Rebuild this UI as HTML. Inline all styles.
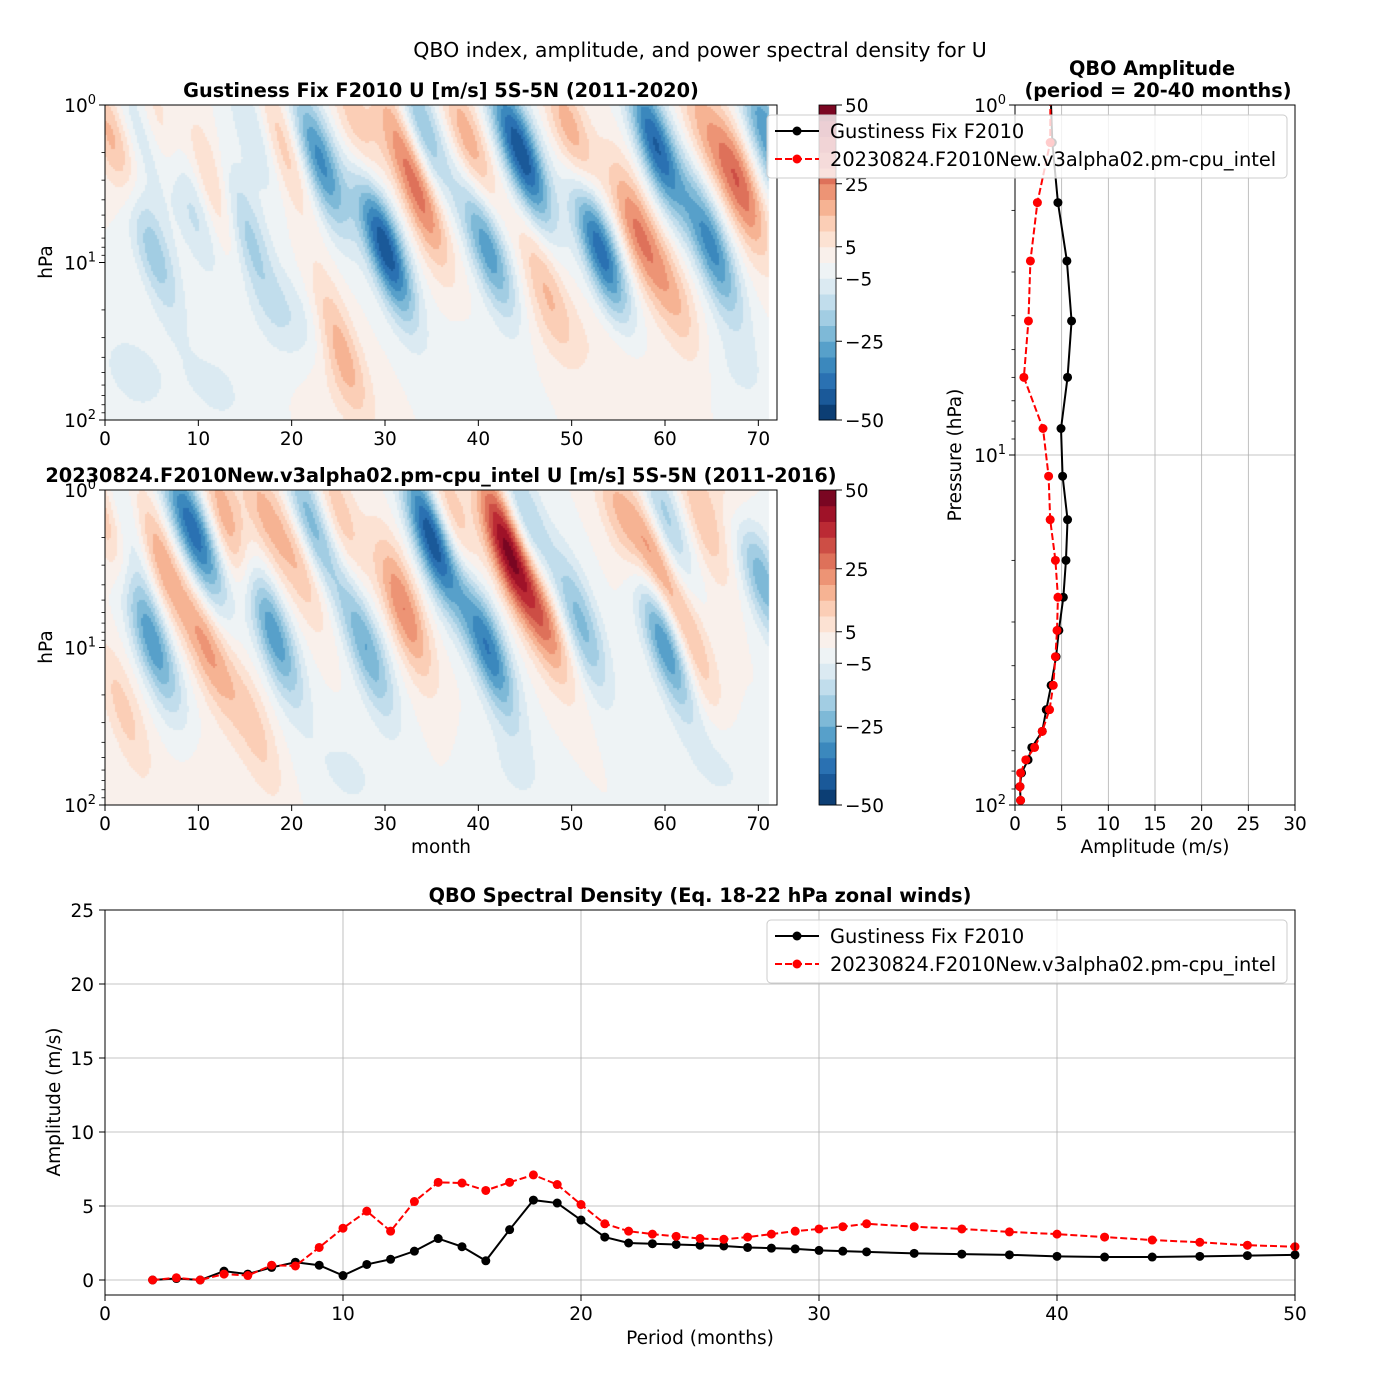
<!DOCTYPE html>
<html><head><meta charset="utf-8">
<style>
html,body{margin:0;padding:0;background:#fff;}
#wrap{position:relative;width:1400px;height:1400px;font-family:"Liberation Sans","DejaVu Sans",sans-serif;}
canvas{position:absolute;}
svg{position:absolute;left:0;top:0;}
text{font-family:"DejaVu Sans","Liberation Sans",sans-serif;fill:#000;}
</style></head>
<body>
<div id="wrap">
<canvas id="c1" width="672" height="315" style="left:105px;top:105px"></canvas>
<canvas id="c2" width="672" height="315" style="left:105px;top:490px"></canvas>
<svg id="svg" width="1400" height="1400"></svg>
</div>
<script>
// ---------- data ----------
// contour panel 1: wind-regime centres (month, log10 hPa, m/s)
const p1Months=[1,6,12,19,25,31,34,39,47,50,57,61,68, 5,9,15,23,30,34,41,45,53,59,65,71, 3,12,25,40,55,68,20,48, 4,16,27,43,64];
const p1Levels=[0.25,0.2,0.55,0.25,1.5,0.15,0.6,0.25,1.1,0.2,0.8,1.2,0.5, 0.9,0.6,0.8,0.35,0.9,0.15,0.9,0.35,0.9,0.25,0.9,0.2, 1.7,1.8,1.8,1.75,1.6,1.7,1.35,1.4, 0.15,0.15,0.15,0.15,0.15];
const p1Winds=[18,14,15,15,18,14,24,20,14,20,24,14,28, -20,-15,-20,-32,-45,-22,-30,-35,-40,-40,-32,-30, -7,-6,4,-5,4,-5,-9,4, -12,-12,14,-14,14];
// contour panel 2
const p2Months=[0.5,6,11,13,17,21,2,16,32,43,47,59,63,64, 2,5,10,18,22,28,35,41,45,51,60,60,70, 26,44,66,12, 8,25,37,55,68];
const p2Levels=[0.2,0.45,1.0,0.2,0.15,0.45,1.4,1.5,0.75,0.35,0.8,0.45,1.0,0.15, 0.2,0.95,0.3,0.9,0.2,1.0,0.3,1.0,0.2,0.85,0.95,0.2,0.5, 1.8,1.8,1.75,1.85, 0.15,0.15,0.15,0.15,0.15];
const p2Winds=[20,20,20,20,15,15,12,12,25,45,25,25,15,15, -15,-30,-30,-30,-25,-25,-45,-35,-20,-22,-35,-20,-30, -6,-5,-6,3, -14,14,16,14,14];
// QBO amplitude profile
const ampPressure=[0.9,1.28,1.9,2.79,4.14,6.0,8.4,11.5,15.3,20,25.5,31.7,37.7,45.5,53.4,61.6,68.5,74.3,81,88.6,97];
const ampRef=[3.8,4.0,4.6,5.56,6.06,5.63,4.93,5.1,5.63,5.46,5.18,4.7,4.4,3.87,3.35,2.92,1.8,1.4,0.7,0.53,0.6];
const ampTest=[3.8,3.77,2.4,1.65,1.44,0.95,3.0,3.6,3.77,4.33,4.6,4.5,4.33,4.1,3.7,2.92,2.1,1.16,0.6,0.53,0.6];
// spectral density
const periods=[2,3,4,5,6,7,8,9,10,11,12,13,14,15,16,17,18,19,20,21,22,23,24,25,26,27,28,29,30,31,32,34,36,38,40,42,44,46,48,50];
const specRef=[0,0.1,0,0.6,0.4,0.85,1.2,1.0,0.3,1.05,1.4,1.95,2.8,2.25,1.3,3.4,5.4,5.2,4.05,2.9,2.5,2.45,2.4,2.35,2.3,2.2,2.15,2.1,2.0,1.95,1.9,1.8,1.75,1.7,1.6,1.55,1.55,1.6,1.65,1.7];
const specTest=[0,0.15,0,0.4,0.3,1.0,0.95,2.2,3.5,4.65,3.3,5.3,6.6,6.55,6.05,6.6,7.1,6.45,5.1,3.8,3.3,3.1,2.95,2.8,2.75,2.9,3.1,3.3,3.45,3.6,3.8,3.6,3.45,3.25,3.1,2.9,2.7,2.55,2.35,2.25];
const cbarTicks=[50,25,5,-5,-25,-50];
const xTicksMonth=[0,10,20,30,40,50,60,70];
const xTicksAmp=[0,5,10,15,20,25,30];
const xTicksPeriod=[0,10,20,30,40,50];
const yTicksSpec=[0,5,10,15,20,25];

// ---------- colormap ----------
const RDBU=[[5,48,97],[33,102,172],[67,147,195],[146,197,222],[209,229,240],[247,247,247],[253,219,199],[244,165,130],[214,96,77],[178,24,43],[103,0,31]];
function cmap(t){t=Math.max(0,Math.min(1,t));const f=t*10,i=Math.min(9,Math.floor(f)),r=f-i;const a=RDBU[i],b=RDBU[i+1];
 return 'rgb('+[0,1,2].map(k=>Math.round(a[k]+(b[k]-a[k])*r)).join(',')+')';}
function bandColor(v){let i=Math.floor((v+50)/5);i=Math.max(0,Math.min(19,i));return cmap((i+0.5)/20);}

// ---------- contour rendering ----------
function drawContour(id,months,levels,winds){
 const c=document.getElementById(id),ctx=c.getContext('2d');
 ctx.fillStyle='#fff';ctx.fillRect(0,0,672,315);
 const sx=672/72, slope=5, wt=2.0, wz=0.45, cell=2;
 for(let py=0;py<315;py+=cell){const z=(py+1)/157.5;
  for(let px=0;px<71*sx;px+=cell){const t=(px+1)/sx;let v=0;
   for(let k=0;k<months.length;k++){const dz=z-levels[k];const u=(t-months[k])-slope*dz;
    const w=Math.abs(winds[k])<10?wt*2:wt, h=Math.abs(winds[k])<10?wz*0.7:wz;
    v+=winds[k]*Math.exp(-(u/w)*(u/w)-(dz/h)*(dz/h));}
   if(v===0)v=-0.5;
   ctx.fillStyle=bandColor(v);ctx.fillRect(px,py,cell,cell);}}
}
drawContour('c1',p1Months,p1Levels,p1Winds);
drawContour('c2',p2Months,p2Levels,p2Winds);

// ---------- svg ----------
const NS='http://www.w3.org/2000/svg';
const svg=document.getElementById('svg');
const FS=18.5, TS=19.3;
function mk(tag,attrs,parent){const e=document.createElementNS(NS,tag);for(const k in attrs)e.setAttribute(k,attrs[k]);(parent||svg).appendChild(e);return e;}
function txt(x,y,s,opt,parent){const e=mk('text',Object.assign({x:x,y:y,'font-size':FS,'text-anchor':'middle'},opt||{}),parent);e.textContent=s;return e;}
function pow10(x,y,exp,anchor,parent){const e=mk('text',{x:x,y:y,'font-size':FS,'text-anchor':anchor},parent);e.appendChild(document.createTextNode('10'));
 const s=mk('tspan',{dy:-8,'font-size':13},e);s.textContent=exp;return e;}

let t=txt(700,57,'QBO index, amplitude, and power spectral density for U',{'font-size':20.5});



function logAxisLeft(x0,y0,h,g){
 for(let d=0;d<2;d++)for(let m=2;m<=9;m++){const y=y0+h*(d+Math.log10(m))/2;mk('line',{x1:x0-3.5,x2:x0,y1:y,y2:y,stroke:'#000','stroke-width':0.8},g);}
 ['0','1','2'].forEach((e,i)=>{const y=y0+h*i/2;mk('line',{x1:x0-6,x2:x0,y1:y,y2:y,stroke:'#000','stroke-width':1},g);
  const l=pow10(x0-9,y+7,e,'end',g);
  
  });
}

function contourAxes(y0,title,xlabel){
 const g=mk('g',{});
 
 
 mk('rect',{x:105,y:y0,width:672,height:315,fill:'none',stroke:'#000','stroke-width':1},g);
 logAxisLeft(105,y0,315,g);
 xTicksMonth.forEach(v=>{const x=105+v*672/72;mk('line',{x1:x,x2:x,y1:y0+315,y2:y0+321,stroke:'#000'},g);
  const l=txt(x,y0+340,String(v),{},g);
  
  });
 const yl=txt(0,0,'hPa',{transform:'translate(52,'+(y0+157)+') rotate(-90)'},g);
 
 
 const tt=txt(441,y0-8,title,{'font-weight':'bold','font-size':TS},g);
 
 
 if(xlabel){const xl=txt(441,y0+363,xlabel,{},g);
  
  }
 const cb=mk('g',{},g);
 
 
 for(let i=0;i<20;i++){const r=mk('rect',{x:819,y:y0+315-(i+1)*315/20,width:17,height:315/20+0.5,fill:cmap((i+0.5)/20)},cb);
  
  }
 mk('rect',{x:819,y:y0,width:17,height:315,fill:'none',stroke:'#000','stroke-width':0.8},cb);
 cbarTicks.forEach(v=>{const y=y0+315*(50-v)/100;mk('line',{x1:836,x2:842,y1:y,y2:y,stroke:'#000'},cb);
  const l=txt(845,y+7,String(v).replace('-','\u2212'),{'text-anchor':'start'},cb);
  
  });
}
contourAxes(105,'Gustiness Fix F2010 U [m/s] 5S-5N (2011-2020)',null);
contourAxes(490,'20230824.F2010New.v3alpha02.pm-cpu_intel U [m/s] 5S-5N (2011-2016)','month');

function series(g,xs,ys,fx,fy,color,dash,name){
 const pts=xs.map((x,i)=>fx(x)+','+fy(ys[i])).join(' ');
 const pl=mk('polyline',{points:pts,fill:'none',stroke:color,'stroke-width':2,'stroke-dasharray':dash?'7,3':'none'},g);
 
 
 xs.forEach((x,i)=>{const c=mk('circle',{cx:fx(x),cy:fy(ys[i]),r:4.5,fill:color},g);
  
  });
}
function legend(x,y,g){
 const lg=mk('g',{},g);
 
 
 mk('rect',{x:x,y:y,width:520,height:63,rx:4,fill:'#fff','fill-opacity':0.8,stroke:'#ccc'},lg);
 [['Gustiness Fix F2010','#000',false],['20230824.F2010New.v3alpha02.pm-cpu_intel','red',true]].forEach((e,i)=>{
  const yy=y+16+i*28;
  const en=mk('g',{},lg);
  
  
  mk('line',{x1:x+8,x2:x+52,y1:yy,y2:yy,stroke:e[1],'stroke-width':2,'stroke-dasharray':e[2]?'7,3':'none'},en);
  mk('circle',{cx:x+30,cy:yy,r:4.5,fill:e[1]},en);
  txt(x+63,yy+7,e[0],{'text-anchor':'start','font-size':19.4},en);});
}

// ---------- amplitude panel ----------
(function(){
 const g=mk('g',{});
 
 
 const X=v=>1015+v*280/30, Y=p=>105+350*Math.log10(p);
 const cp=mk('clipPath',{id:'clipA'},g);mk('rect',{x:1015,y:105,width:280,height:700},cp);
 xTicksAmp.forEach(v=>{mk('line',{x1:X(v),x2:X(v),y1:105,y2:805,stroke:'#b0b0b0','stroke-width':0.8},g);
  mk('line',{x1:X(v),x2:X(v),y1:805,y2:811,stroke:'#000'},g);
  const l=txt(X(v),830,String(v),{},g);
  
  });
 [1,10,100].forEach(p=>mk('line',{x1:1015,x2:1295,y1:Y(p),y2:Y(p),stroke:'#b0b0b0','stroke-width':0.8},g));
 const sg=mk('g',{'clip-path':'url(#clipA)'},g);
 series(sg,ampRef,ampPressure,X,Y,'#000',false,'amp-gustiness');
 series(sg,ampTest,ampPressure,X,Y,'red',true,'amp-v3alpha02');
 mk('rect',{x:1015,y:105,width:280,height:700,fill:'none',stroke:'#000'},g);
 logAxisLeft(1015,105,700,g);
 let l=txt(1155,853,'Amplitude (m/s)',{},g);
 
 
 l=txt(0,0,'Pressure (hPa)',{transform:'translate(961,455) rotate(-90)'},g);
 
 
 l=txt(1152,75,'QBO Amplitude',{'font-weight':'bold','font-size':TS},g);
 
 
 l=txt(1158,97,'(period = 20-40 months)',{'font-weight':'bold','font-size':TS},g);
 
 
 legend(767,115,g);
})();

// ---------- spectral panel ----------
(function(){
 const g=mk('g',{});
 
 
 const X=v=>105+v*1190/50, Y=v=>1280-v*14.8;
 xTicksPeriod.forEach(v=>{mk('line',{x1:X(v),x2:X(v),y1:910,y2:1295,stroke:'#b0b0b0','stroke-width':0.8},g);
  mk('line',{x1:X(v),x2:X(v),y1:1295,y2:1301,stroke:'#000'},g);
  const l=txt(X(v),1320,String(v),{},g);
  
  });
 yTicksSpec.forEach(v=>{mk('line',{x1:105,x2:1295,y1:Y(v),y2:Y(v),stroke:'#b0b0b0','stroke-width':0.8},g);
  mk('line',{x1:99,x2:105,y1:Y(v),y2:Y(v),stroke:'#000'},g);
  const l=txt(94,Y(v)+7,String(v),{'text-anchor':'end'},g);
  
  });
 series(g,periods,specRef,X,Y,'#000',false,'spec-gustiness');
 series(g,periods,specTest,X,Y,'red',true,'spec-v3alpha02');
 mk('rect',{x:105,y:910,width:1190,height:385,fill:'none',stroke:'#000'},g);
 let l=txt(700,1344,'Period (months)',{},g);
 
 
 l=txt(0,0,'Amplitude (m/s)',{transform:'translate(60,1102) rotate(-90)'},g);
 
 
 l=txt(700,902,'QBO Spectral Density (Eq. 18-22 hPa zonal winds)',{'font-weight':'bold','font-size':TS},g);
 
 
 legend(767,920,g);
})();
</script>
</body></html>
